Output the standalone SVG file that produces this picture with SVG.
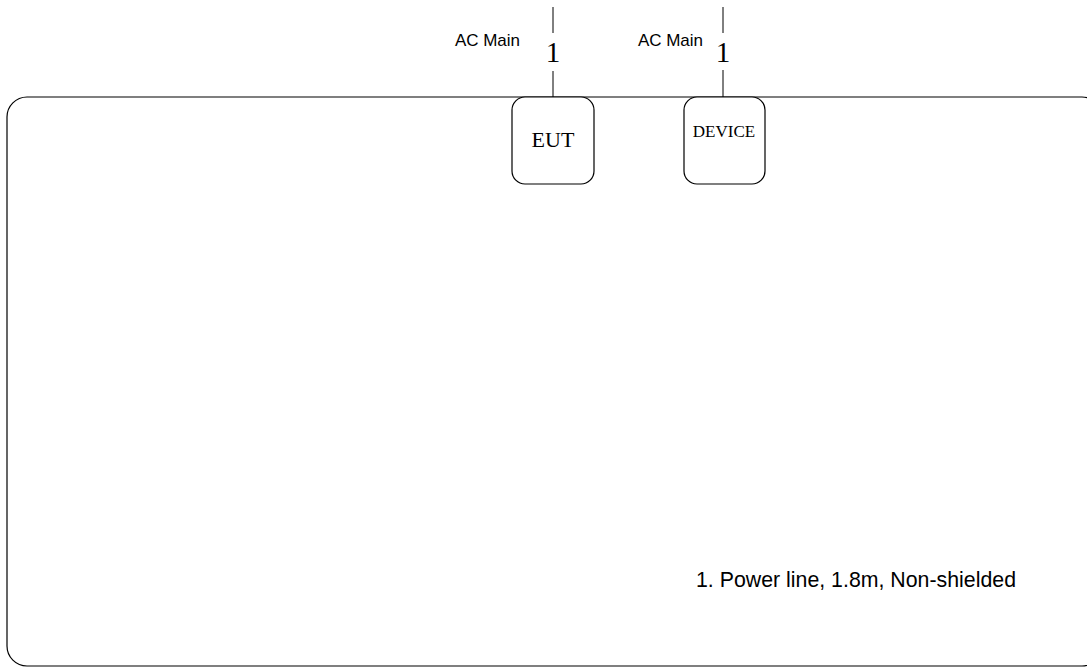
<svg xmlns="http://www.w3.org/2000/svg" width="1087" height="668" viewBox="0 0 1087 668">
<style>
.box{fill:#fff;stroke:#000;stroke-width:1.2}
.ln{stroke:#000;stroke-width:1;fill:none}
.sans{font-family:"Liberation Sans",Arial,sans-serif;fill:#000}
.serif{font-family:"Liberation Serif","Times New Roman",serif;fill:#000}
</style>
<rect width="1087" height="668" fill="#fff"/>
<g id="frame"><rect class="box" x="7" y="97" width="1095" height="569" rx="20" ry="20"/></g>
<g id="connectors">
<line class="ln" x1="553" y1="7" x2="553" y2="33"/>
<line class="ln" x1="553" y1="71" x2="553" y2="97"/>
<line class="ln" x1="723" y1="7" x2="723" y2="33"/>
<line class="ln" x1="723" y1="70" x2="723" y2="97"/>
<text class="serif" x="553" y="62" font-size="29" text-anchor="middle">1</text>
<text class="serif" x="723" y="62" font-size="29" text-anchor="middle">1</text>
<text class="sans" x="455" y="46" font-size="17" textLength="65">AC Main</text>
<text class="sans" x="638" y="46" font-size="17" textLength="65">AC Main</text>
</g>
<g id="eut"><rect class="box" x="512" y="97" width="82" height="87" rx="13" ry="13"/>
<text class="serif" x="553" y="147" font-size="22" text-anchor="middle">EUT</text></g>
<g id="device"><rect class="box" x="684" y="97" width="81" height="87" rx="13" ry="13"/>
<text class="serif" x="724" y="137" font-size="17" text-anchor="middle">DEVICE</text></g>
<g id="note"><text class="sans" x="696" y="587" font-size="21.3" textLength="320">1. Power line, 1.8m, Non-shielded</text></g>
</svg>
